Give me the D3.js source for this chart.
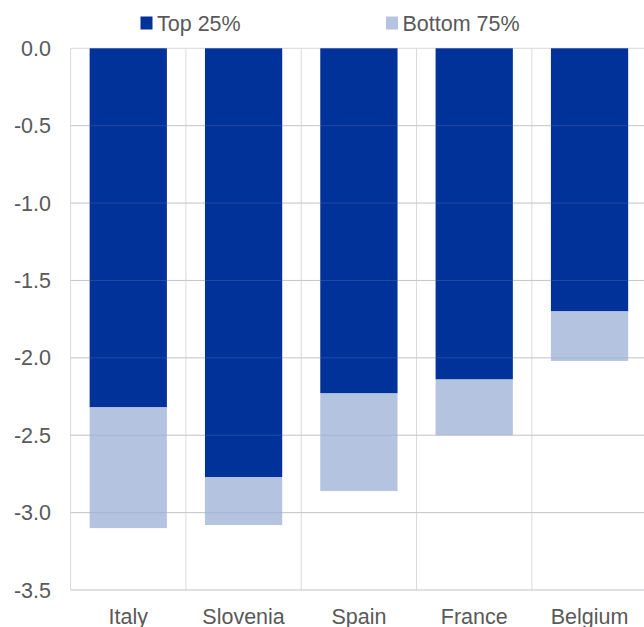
<!DOCTYPE html>
<html><head><meta charset="utf-8">
<script src="https://cdn.jsdelivr.net/npm/d3@7"></script>
<style>body{margin:0;background:#fff}svg{display:block}text{font-family:Arial,"Liberation Sans",sans-serif;fill:#595959}</style>
</head><body>
<svg id="c" width="644" height="627"></svg>
<script>
const categories = ["Italy","Slovenia","Spain","France","Belgium"];
const top25 = [-2.32,-2.77,-2.23,-2.14,-1.70];
const bottom75 = [-0.78,-0.31,-0.63,-0.36,-0.32];
const seriesNames = ["Top 25%","Bottom 75%"];
const yTicks = [0,-0.5,-1,-1.5,-2,-2.5,-3,-3.5];

(function(){
const svg = d3.select("#c");
const pL = 70.6, pR = 647.2, pT = 48.3, pB = 590;
const dark = "#003299", light = "#b3c3e0";
const x = d3.scaleBand().domain(categories).range([pL,pR]).paddingInner(0.33).paddingOuter(0.165);
const y = d3.scaleLinear().domain([0,-3.5]).range([pT,pB]);

const g = svg.append("g");
g.selectAll("line.h").data(yTicks).join("line")
  .attr("x1",pL).attr("x2",pR).attr("y1",d=>y(d)).attr("y2",d=>y(d))
  .attr("stroke","#d9d9d9").attr("stroke-width",1);
const bounds = d3.range(categories.length+1).map(i=>pL + i*(pR-pL)/categories.length);
g.selectAll("line.v").data(bounds).join("line")
  .attr("x1",d=>d).attr("x2",d=>d).attr("y1",pT).attr("y2",pB)
  .attr("stroke","#d9d9d9").attr("stroke-width",1);

const data = categories.map((c,i)=>({c, t: top25[i], b: bottom75[i]}));
svg.append("g").selectAll("rect").data(data).join("rect")
  .attr("x",d=>x(d.c)).attr("width",x.bandwidth())
  .attr("y",d=>y(0)).attr("height",d=>y(d.t)-y(0)).attr("fill",dark);
svg.append("g").selectAll("rect").data(data).join("rect")
  .attr("x",d=>x(d.c)).attr("width",x.bandwidth())
  .attr("y",d=>y(d.t)).attr("height",d=>y(d.t+d.b)-y(d.t)).attr("fill",light);
svg.append("g").selectAll("line").data(yTicks.slice(1)).join("line")
  .attr("x1",pL).attr("x2",pR).attr("y1",d=>y(d)).attr("y2",d=>y(d))
  .attr("stroke","#8a94a8").attr("stroke-opacity",0.25).attr("stroke-width",1);

svg.append("g").selectAll("text").data(yTicks).join("text")
  .attr("x",51).attr("y",d=>y(d)).attr("dy","0.35em").attr("text-anchor","end")
  .style("font-size","21.5px").text(d=>d3.format(".1f")(d).replace("−","-"));

svg.append("g").selectAll("text").data(categories).join("text")
  .attr("x",d=>x(d)+x.bandwidth()/2).attr("y",623.5).attr("text-anchor","middle")
  .style("font-size","21.5px").text(d=>d);

const leg = [{n:seriesNames[0],c:dark,x:140.5},{n:seriesNames[1],c:light,x:386}];
const lg = svg.append("g").selectAll("g").data(leg).join("g");
lg.append("rect").attr("x",d=>d.x).attr("y",16.5).attr("width",12).attr("height",13).attr("fill",d=>d.c);
lg.append("text").attr("x",d=>d.x+16.5).attr("y",30.5).style("font-size","21.5px").text(d=>d.n);
})();
</script>
</body></html>
